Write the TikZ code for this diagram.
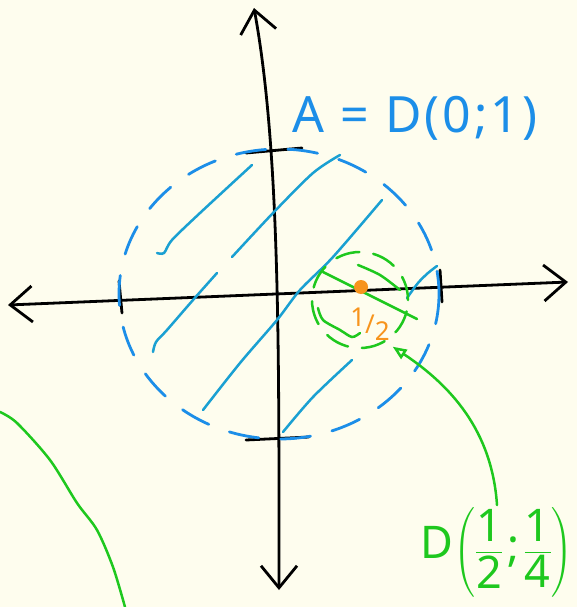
\documentclass[tikz,border=0pt]{standalone}
\usepackage{amsmath}
\usepackage{fontspec}
\setmainfont{Noto Sans}
\usetikzlibrary{arrows.meta}
\definecolor{paper}{RGB}{254,253,238}
\definecolor{inkblue}{RGB}{28,142,232}
\definecolor{hatchblue}{RGB}{26,160,210}
\definecolor{inkgreen}{RGB}{30,200,30}
\definecolor{inkorange}{RGB}{247,148,29}

\begin{document}
\begin{tikzpicture}[
  x=1pt, y=-1pt,
  axis/.style={line width=2.8pt, line cap=round, {Straight Barb[length=22pt,width=36pt]}-{Straight Barb[length=22pt,width=36pt]}},
  tick/.style={line width=2.8pt, line cap=round},
  bigdisk/.style={draw=inkblue, line width=2.8pt, line cap=round, dash pattern=on 30pt off 22pt},
  smalldisk/.style={circle, draw=inkgreen, line width=2.5pt, line cap=round, dash pattern=on 24pt off 14pt, minimum size=96pt, outer sep=9pt},
  hatchA/.style={draw=hatchblue, line width=2.5pt, line cap=round},
  hatchB/.style={draw=inkgreen, line width=2.5pt, line cap=round},
  pointer/.style={draw=inkgreen, line width=2.5pt, line cap=round, -{Triangle[open,length=14pt,width=11pt]}},
  lab/.style={inner sep=2pt}
]
\useasboundingbox[fill=paper] (0,0) rectangle (577,607);

% axes
\coordinate (xl) at (8,305);
\coordinate (xr) at (568,282);
\coordinate (yt) at (254,8);
\coordinate (yb) at (279,590);
\draw[axis] (xl) -- (xr);
\draw[axis] (yt) .. controls (280,150) and (279,350) .. (yb);
\draw[tick] (119,281) -- (122,313);
\draw[tick] (440,270) -- (442,302);
\draw[tick] (246,153) -- (302,148);
\draw[tick] (246,440) -- (309,437);

% A = D(0;1)
\draw[bigdisk] (279,294) ellipse [x radius=160, y radius=145];
\draw[hatchA] plot[smooth] coordinates {(157,253) (164,253) (172,240) (200,213) (252,165)};
\draw[hatchA] plot[smooth] coordinates {(153,352) (156,342) (167,330) (193,300) (217,273)};
\draw[hatchA] plot[smooth] coordinates {(232,257) (273,213) (313,173) (340,155)};
\draw[hatchA] plot[smooth] coordinates {(203,410) (240,363) (277,320) (300,290) (333,257) (382,200)};
\draw[hatchA] plot[smooth] coordinates {(283,432) (313,397) (352,360)};
\draw[hatchA] plot[smooth] coordinates {(407,298) (418,283) (428,273) (437,266)};

% D(1/2;1/4)
\node[smalldisk] (small) at (360,300) {};
\draw[hatchB] (323,272) -- (417,319);
\draw[hatchB] plot[smooth] coordinates {(358,265) (380,275) (400,290)};
\draw[hatchB] plot[smooth] coordinates {(318,308) (323,320) (340,330) (352,337) (360,333)};
\node[circle, fill=inkorange, minimum size=14pt, inner sep=0pt] (c) at (361,287) {};
\node[lab, text=inkorange, font=\fontsize{26}{28}\selectfont] (h) at (370,324)
  {\raisebox{0.3em}{1}/\raisebox{-0.25em}{2}};

% labels
\node[lab, text=inkblue, font=\fontsize{50}{56}\selectfont\addfontfeature{LetterSpace=6}] (lblA) at (415,118) {A = D(0;1)};
\node[lab, text=inkgreen, font=\fontsize{45}{50}\selectfont] (lblD) at (497,552)
  {D$\left(\dfrac{\text{1}}{\text{2}}\,\vcenter{\hbox{;}}\,\dfrac{\text{1}}{\text{4}}\right)$};
\draw[pointer] (lblD.north) .. controls (492,430) and (450,385) .. (small.-55);

% stray arc
\draw[hatchB] plot[smooth] coordinates {(0,412) (17,423) (50,460) (77,503) (97,530) (113,567) (125,607)};
\end{tikzpicture}
\end{document}
